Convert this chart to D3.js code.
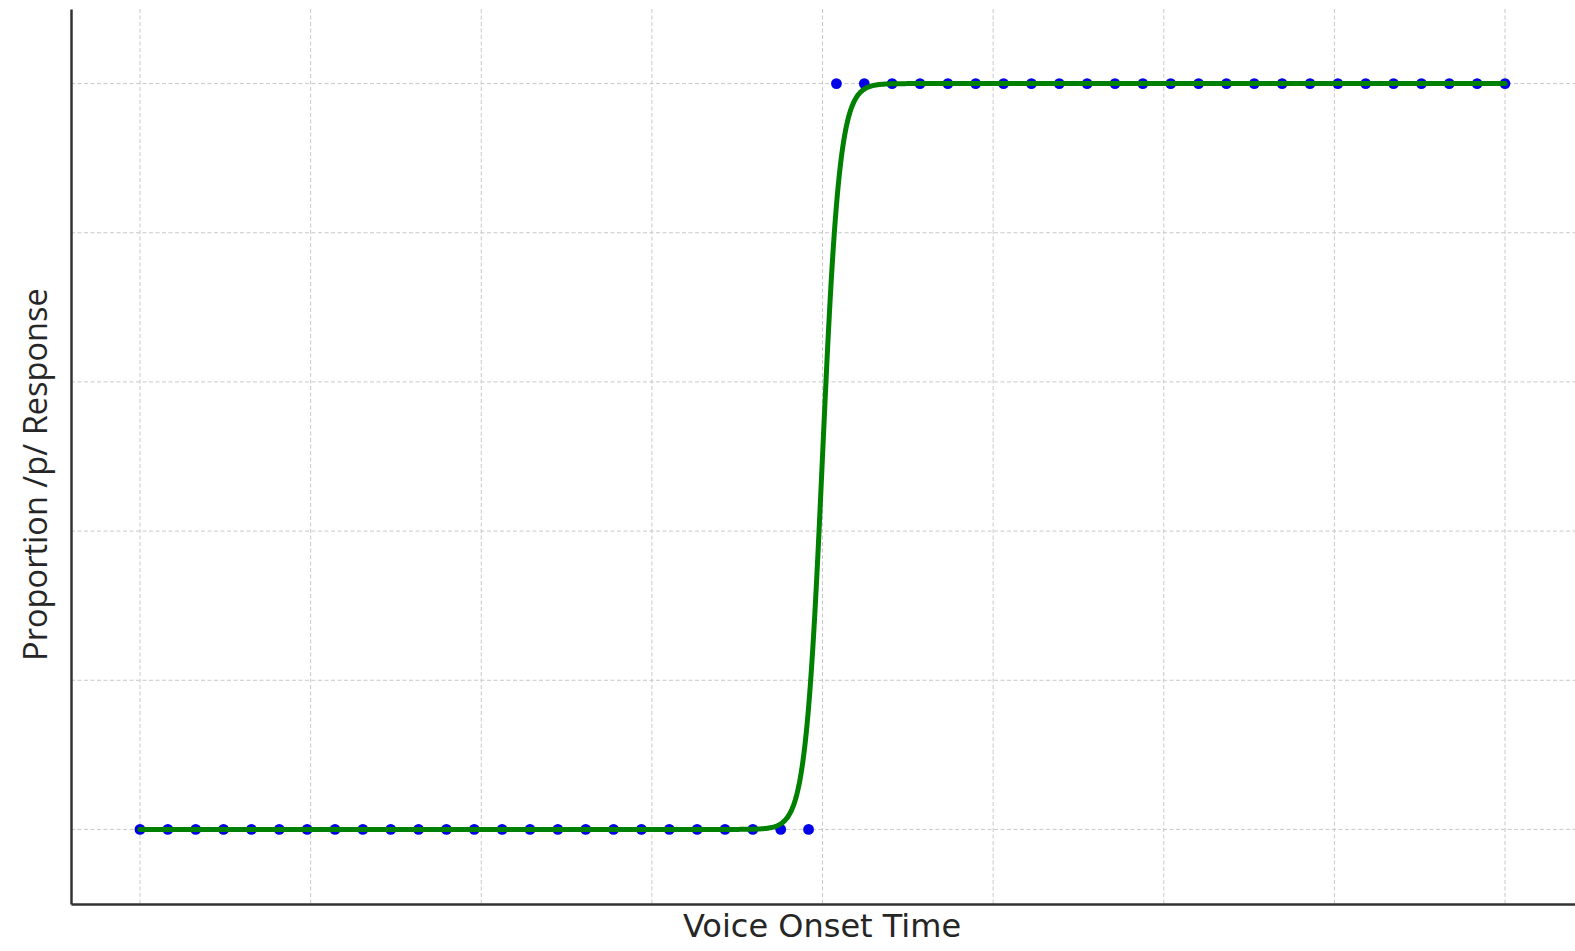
<!DOCTYPE html>
<html>
<head>
<meta charset="utf-8">
<script src="https://cdn.jsdelivr.net/npm/d3@7"></script>
<style>
  html, body { margin: 0; padding: 0; background: #fff; }
  svg { display: block; }
  text { fill: #262626; }
</style>
</head>
<body>
<script>
// Stimulus continuum (VOT steps) and observed /p/ responses
const votSteps = d3.range(50).map(i => i * 80 / 49);
const responses = [
  0,0,0,0,0,0,0,0,0,0,0,0,0,0,0,0,0,0,0,0,0,0,0,0,0,
  1,1,1,1,1,1,1,1,1,1,1,1,1,1,1,1,1,1,1,1,1,1,1,1,1
];
// Fitted logistic psychometric function
const fitCenter = 40.0;
const fitSlope = 2.0;
// Grid tick positions
const xTicks = [0, 10, 20, 30, 40, 50, 60, 70, 80];
const yTicks = [0, 0.2, 0.4, 0.6, 0.8, 1.0];

const W = 1575, H = 951;
const plotLeft = 71, plotRight = 1575, plotTop = 9, plotBottom = 904;

const svg = d3.select("body").append("svg").attr("width", W).attr("height", H);

// 0 -> 140px, 80 -> 1505px
const pxPerUnit = (1505 - 140) / 80;
const x = d3.scaleLinear()
  .domain([(plotLeft - 140) / pxPerUnit, (plotRight - 140) / pxPerUnit])
  .range([plotLeft, plotRight]);
const y = d3.scaleLinear().domain([-0.1, 1.1]).range([plotBottom, plotTop]);

// grid
const grid = svg.append("g").attr("stroke", "#c8c8c8").attr("stroke-width", 1)
  .attr("stroke-dasharray", "4,2.5");
grid.selectAll(".gx").data(xTicks).join("line").attr("class", "gx")
  .attr("x1", d => x(d)).attr("x2", d => x(d))
  .attr("y1", plotTop).attr("y2", plotBottom);
grid.selectAll(".gy").data(yTicks).join("line").attr("class", "gy")
  .attr("x1", plotLeft).attr("x2", plotRight)
  .attr("y1", d => y(d)).attr("y2", d => y(d));

// observed points
svg.append("g").selectAll("circle").data(votSteps).join("circle")
  .attr("cx", d => x(d)).attr("cy", (d, i) => y(responses[i]))
  .attr("r", 5.4).attr("fill", "#0000e8");

// fitted curve
const curveX = d3.range(0, 80.0001, 0.05);
const logistic = v => 1 / (1 + Math.exp(-fitSlope * (v - fitCenter)));
svg.append("path")
  .datum(curveX)
  .attr("fill", "none").attr("stroke", "#008000").attr("stroke-width", 5)
  .attr("stroke-linejoin", "round").attr("stroke-linecap", "round")
  .attr("d", d3.line().x(d => x(d)).y(d => y(logistic(d))));

// spines (left and bottom only, no tick labels)
const xAxis = d3.axisBottom(x).tickValues([]).tickSize(0);
const yAxis = d3.axisLeft(y).tickValues([]).tickSize(0);
svg.append("g").attr("transform", `translate(0,${plotBottom})`).call(xAxis)
  .select(".domain").attr("stroke", "#333").attr("stroke-width", 2.5);
svg.append("g").attr("transform", `translate(${plotLeft},0)`).call(yAxis)
  .select(".domain").attr("stroke", "#333").attr("stroke-width", 2.5);

// labels
svg.append("text").attr("x", 822).attr("y", 937)
  .attr("text-anchor", "middle").attr("font-family", "DejaVu Sans")
  .attr("font-size", 32).text("Voice Onset Time");
svg.append("text")
  .attr("transform", `translate(47,474.5) rotate(-90)`)
  .attr("text-anchor", "middle").attr("font-family", "Open Sans")
  .attr("font-size", 32.6).text("Proportion /p/ Response");
</script>
</body>
</html>
